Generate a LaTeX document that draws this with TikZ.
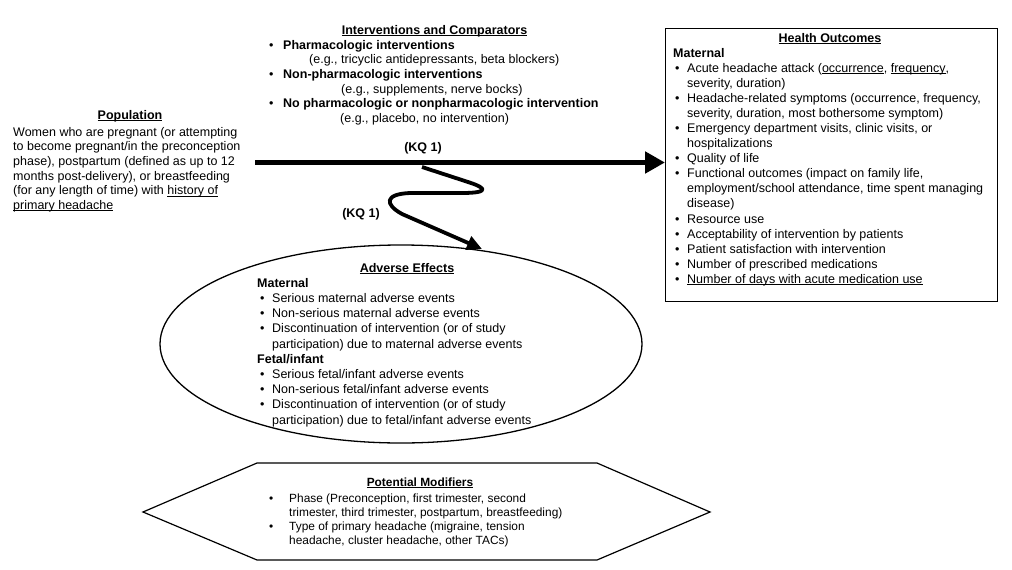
\documentclass[tikz,border=0pt]{standalone}
\usepackage{fontspec}
\setmainfont{Liberation Sans}
\usetikzlibrary{arrows.meta,shapes.geometric}
\newcommand\myul[1]{\setbox0\hbox{#1}\rlap{\rule[-1.9pt]{\wd0}{0.8pt}}\box0}
\begin{document}
\begin{tikzpicture}[x=1pt,y=-1pt,
  txt/.style={font=\fontsize{12.5}{15}\selectfont, inner sep=0pt, anchor=west, text height=9pt, text depth=2.6pt},
  btxt/.style={txt, font=\fontsize{12.5}{15}\selectfont\bfseries},
  ttl/.style={btxt, anchor=center},
  stxt/.style={txt, font=\fontsize{11.9}{14}\selectfont},
  sttl/.style={stxt, anchor=center, font=\fontsize{11.9}{14}\selectfont\bfseries},
  shape line/.style={draw=black, line width=1.3pt},
  bigarrow/.style={line width=5.5pt, -{Triangle[length=20pt,width=21pt]}},
  squig/.style={line width=3.8pt, line join=round, -{Triangle[length=15pt,width=14pt]}}
]
\useasboundingbox (0,0) rectangle (1012,570);

% ---------- Population ----------
\node[ttl] (popt) at (130,116) {\myul{Population}};
\node[txt] (pop1) at (13,133) {Women who are pregnant (or attempting};
\node[txt] (pop2) at (13,147.6) {to become pregnant/in the preconception};
\node[txt] (pop3) at (13,162.2) {phase), postpartum (defined as up to 12};
\node[txt] (pop4) at (13,176.8) {months post-delivery), or breastfeeding};
\node[txt] (pop5) at (13,191.4) {(for any length of time) with \myul{history of}};
\node[txt] (pop6) at (13,206) {\myul{primary headache}};

% ---------- Interventions ----------
\node[ttl] (intt) at (434.5,31) {\myul{Interventions and Comparators}};
\node[txt] (ib1) at (269,46) {\textbullet};
\node[btxt] (i1) at (283,46) {Pharmacologic interventions};
\node[txt] (i1e) at (309,60.6) {(e.g., tricyclic antidepressants, beta blockers)};
\node[txt] (ib2) at (269,75.2) {\textbullet};
\node[btxt] (i2) at (283,75.2) {Non-pharmacologic interventions};
\node[txt] (i2e) at (341,89.8) {(e.g., supplements, nerve bocks)};
\node[txt] (ib3) at (269,104.4) {\textbullet};
\node[btxt] (i3) at (283,104.4) {No pharmacologic or nonpharmacologic intervention};
\node[txt] (i3e) at (340,119) {(e.g., placebo, no intervention)};

% ---------- Health Outcomes box ----------
\node[shape line, anchor=north west, minimum width=332pt, minimum height=273pt, inner sep=0pt] (ho) at (665,28) {};
\node[ttl] (hot) at (830,39) {\myul{Health Outcomes}};
\node[btxt] (hom) at (673,54) {Maternal};
\node[txt] (hb1) at (675,69.1) {\textbullet};
\node[txt] (h1a) at (687,69.1) {Acute headache attack (\myul{occurrence}, \myul{frequency},};
\node[txt] (h1b) at (687,84.1) {severity, duration)};
\node[txt] (hb2) at (675,99.2) {\textbullet};
\node[txt] (h2a) at (687,99.2) {Headache-related symptoms (occurrence, frequency,};
\node[txt] (h2b) at (687,114.3) {severity, duration, most bothersome symptom)};
\node[txt] (hb3) at (675,129.4) {\textbullet};
\node[txt] (h3a) at (687,129.4) {Emergency department visits, clinic visits, or};
\node[txt] (h3b) at (687,144.4) {hospitalizations};
\node[txt] (hb4) at (675,159.5) {\textbullet};
\node[txt] (h4) at (687,159.5) {Quality of life};
\node[txt] (hb5) at (675,174.6) {\textbullet};
\node[txt] (h5a) at (687,174.6) {Functional outcomes (impact on family life,};
\node[txt] (h5b) at (687,189.6) {employment/school attendance, time spent managing};
\node[txt] (h5c) at (687,204.7) {disease)};
\node[txt] (hb6) at (675,219.8) {\textbullet};
\node[txt] (h6) at (687,219.8) {Resource use};
\node[txt] (hb7) at (675,234.8) {\textbullet};
\node[txt] (h7) at (687,234.8) {Acceptability of intervention by patients};
\node[txt] (hb8) at (675,249.9) {\textbullet};
\node[txt] (h8) at (687,249.9) {Patient satisfaction with intervention};
\node[txt] (hb9) at (675,265) {\textbullet};
\node[txt] (h9) at (687,265) {Number of prescribed medications};
\node[txt] (hb10) at (675,280) {\textbullet};
\node[txt] (h10) at (687,280) {\myul{Number of days with acute medication use}};

% ---------- Adverse Effects ellipse ----------
\node[shape line, ellipse, minimum width=482pt, minimum height=198pt, inner sep=0pt] (ae) at (401,344) {};
\node[ttl] (aet) at (407,269) {\myul{Adverse Effects}};
\node[btxt] (aem) at (257,284) {Maternal};
\node[txt] (ab1) at (260,299.2) {\textbullet};
\node[txt] (a1) at (272,299.2) {Serious maternal adverse events};
\node[txt] (ab2) at (260,314.4) {\textbullet};
\node[txt] (a2) at (272,314.4) {Non-serious maternal adverse events};
\node[txt] (ab3) at (260,329.6) {\textbullet};
\node[txt] (a3a) at (272,329.6) {Discontinuation of intervention (or of study};
\node[txt] (a3b) at (272,344.8) {participation) due to maternal adverse events};
\node[btxt] (aef) at (257,360) {Fetal/infant};
\node[txt] (ab4) at (260,375.2) {\textbullet};
\node[txt] (a4) at (272,375.2) {Serious fetal/infant adverse events};
\node[txt] (ab5) at (260,390.4) {\textbullet};
\node[txt] (a5) at (272,390.4) {Non-serious fetal/infant adverse events};
\node[txt] (ab6) at (260,405.6) {\textbullet};
\node[txt] (a6a) at (272,405.6) {Discontinuation of intervention (or of study};
\node[txt] (a6b) at (272,420.8) {participation) due to fetal/infant adverse events};

% ---------- Potential Modifiers hexagon ----------
\draw[shape line, line width=1.2pt, line join=miter] (143,512) -- (257,463) -- (597,463) -- (710,512) -- (597,560) -- (257,560) -- cycle;
\node[sttl] (pmt) at (420,483) {\myul{Potential Modifiers}};
\node[stxt] (pb1) at (269,499) {\textbullet};
\node[stxt] (p1a) at (289,499) {Phase (Preconception, first trimester, second};
\node[stxt] (p1b) at (289,513) {trimester, third trimester, postpartum, breastfeeding)};
\node[stxt] (pb2) at (269,527) {\textbullet};
\node[stxt] (p2a) at (289,527) {Type of primary headache (migraine, tension};
\node[stxt] (p2b) at (289,541) {headache, cluster headache, other TACs)};

% ---------- Connectors ----------
\coordinate (a0) at (255,162.5);
\draw[bigarrow] (a0) -- (ho.west |- a0);
\node[ttl] (kq1) at (423,148.5) {(KQ 1)};

\coordinate (s0) at (422,167);
\coordinate (s1) at (482,249);
\draw[squig] (s0) -- (468,182) .. controls (490,189) and (486,193) .. (462,193)
   -- (410,193) .. controls (385,194) and (384,204) .. (402,214) -- (s1);
\node[ttl] (kq2) at (361,214) {(KQ 1)};
\end{tikzpicture}
\end{document}
